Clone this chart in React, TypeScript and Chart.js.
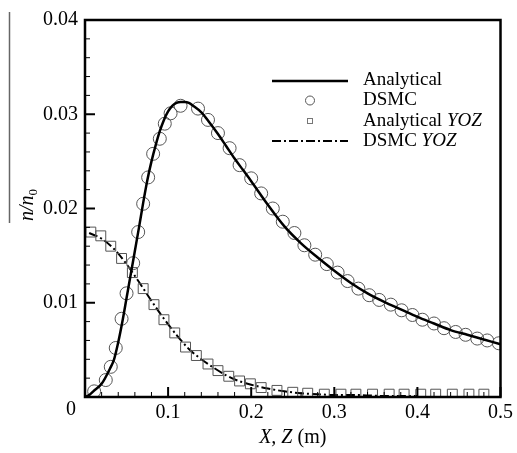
import React, { useEffect, useRef } from 'react';
import { Chart, registerables } from 'chart.js';
Chart.register(...registerables);

const analyticalX = [0, 0.005, 0.01, 0.02, 0.03, 0.035, 0.04, 0.045, 0.05, 0.055, 0.06, 0.065, 0.07, 0.075, 0.08, 0.085, 0.09, 0.095, 0.1, 0.105, 0.11, 0.115, 0.12, 0.125, 0.13, 0.14, 0.15, 0.16, 0.17, 0.18, 0.19, 0.2, 0.22, 0.24, 0.26, 0.28, 0.3, 0.32, 0.34, 0.36, 0.38, 0.4, 0.42, 0.44, 0.46, 0.48, 0.5];
const analyticalY = [0, 0.0002, 0.0006, 0.0014, 0.003, 0.004, 0.0058, 0.008, 0.0105, 0.013, 0.0155, 0.018, 0.0206, 0.023, 0.025, 0.0267, 0.0282, 0.0294, 0.0303, 0.0309, 0.0312, 0.0313, 0.0313, 0.0312, 0.0309, 0.0302, 0.0291, 0.0279, 0.0266, 0.0253, 0.0241, 0.0229, 0.0204, 0.0181, 0.0163, 0.0148, 0.0134, 0.0121, 0.011, 0.0101, 0.0093, 0.0085, 0.0078, 0.0071, 0.0066, 0.0061, 0.0056];

const dsmcX = [0.011, 0.025, 0.031, 0.037, 0.044, 0.05, 0.058, 0.064, 0.07, 0.076, 0.082, 0.09, 0.096, 0.103, 0.115, 0.136, 0.148, 0.16, 0.174, 0.186, 0.2, 0.212, 0.226, 0.238, 0.252, 0.264, 0.277, 0.291, 0.304, 0.316, 0.329, 0.342, 0.354, 0.368, 0.381, 0.394, 0.406, 0.42, 0.432, 0.446, 0.458, 0.472, 0.484, 0.498];
const dsmcY = [0.0006, 0.0018, 0.0032, 0.0052, 0.0083, 0.011, 0.0142, 0.0175, 0.0205, 0.0233, 0.0258, 0.0274, 0.029, 0.0301, 0.0309, 0.0306, 0.0294, 0.028, 0.0264, 0.0246, 0.0232, 0.0216, 0.02, 0.0186, 0.0174, 0.0161, 0.0151, 0.0141, 0.0132, 0.0123, 0.0115, 0.0108, 0.0103, 0.0098, 0.0092, 0.0087, 0.0082, 0.0078, 0.0073, 0.0069, 0.0066, 0.0062, 0.006, 0.0057];

const yozAnaX = [0.007, 0.019, 0.031, 0.044, 0.057, 0.07, 0.083, 0.095, 0.108, 0.121, 0.134, 0.148, 0.16, 0.173, 0.186, 0.199, 0.212, 0.231, 0.25, 0.268, 0.288, 0.308, 0.326, 0.346, 0.366, 0.384, 0.404, 0.422, 0.442, 0.462, 0.48];
const yozAnaY = [0.0175, 0.0171, 0.016, 0.0147, 0.0132, 0.0115, 0.0098, 0.0082, 0.0068, 0.0053, 0.0044, 0.0035, 0.0028, 0.0022, 0.0017, 0.0014, 0.001, 0.0007, 0.0005, 0.0004, 0.0003, 0.0003, 0.0003, 0.0003, 0.0003, 0.0003, 0.0003, 0.0003, 0.0003, 0.0003, 0.0003];

const yozDsmcX = [0.005, 0.02, 0.035, 0.05, 0.065, 0.08, 0.095, 0.11, 0.125, 0.14, 0.155, 0.17, 0.185, 0.2, 0.22, 0.24, 0.26, 0.28, 0.3, 0.33, 0.36, 0.4];
const yozDsmcY = [0.0174, 0.0168, 0.0157, 0.0141, 0.0122, 0.0102, 0.0083, 0.0066, 0.0051, 0.004, 0.0031, 0.0023, 0.0017, 0.0013, 0.0009, 0.0006, 0.0004, 0.0003, 0.0002, 0.0002, 0.0001, 0.0001];

const xMin = 0, xMax = 0.5, xStep = 0.1, xMinorStep = 0.02;
const yMin = 0, yMax = 0.04, yStep = 0.01, yMinorStep = 0.002;

const legendLabels = ['Analytical', 'DSMC', 'Analytical ', 'DSMC '];
const legendItalic = ['', '', 'YOZ', 'YOZ'];

const SERIF = "'Liberation Serif', 'Times New Roman', serif";

const toPts = (xs: number[], ys: number[]) => xs.map((x, i) => ({ x, y: ys[i] }));

const decor = {
  id: 'decor',
  afterDraw(chart: any) {
    const ctx: CanvasRenderingContext2D = chart.ctx;
    const { left, right, top, bottom } = chart.chartArea;
    const xs = chart.scales.x;
    const ys = chart.scales.y;
    ctx.save();
    ctx.strokeStyle = '#000';
    // x ticks
    const nx = Math.round((xMax - xMin) / xMinorStep);
    for (let i = 0; i <= nx; i++) {
      const v = xMin + i * xMinorStep;
      const major = i % Math.round(xStep / xMinorStep) === 0;
      const px = xs.getPixelForValue(v);
      ctx.lineWidth = major ? 2 : 1;
      ctx.beginPath();
      ctx.moveTo(px, bottom);
      ctx.lineTo(px, bottom - (major ? 10 : 5));
      ctx.stroke();
    }
    const ny = Math.round((yMax - yMin) / yMinorStep);
    for (let i = 0; i <= ny; i++) {
      const v = yMin + i * yMinorStep;
      const major = i % Math.round(yStep / yMinorStep) === 0;
      const py = ys.getPixelForValue(v);
      ctx.lineWidth = major ? 2 : 1;
      ctx.beginPath();
      ctx.moveTo(left, py);
      ctx.lineTo(left + (major ? 10 : 5), py);
      ctx.stroke();
    }
    // box
    ctx.lineWidth = 2.5;
    ctx.strokeRect(left, top, right - left, bottom - top);

    // shared zero label
    ctx.fillStyle = '#000';
    ctx.font = `20px ${SERIF}`;
    ctx.textAlign = 'center';
    ctx.textBaseline = 'middle';
    ctx.fillText('0', left - 14, bottom + 13);

    // x title
    ctx.textBaseline = 'middle';
    ctx.textAlign = 'left';
    ctx.font = `italic 20px ${SERIF}`;
    const t1 = 'X, Z';
    const w1 = ctx.measureText(t1).width;
    ctx.font = `20px ${SERIF}`;
    const t2 = ' (m)';
    const w2 = ctx.measureText(t2).width;
    const cx = (left + right) / 2;
    let sx = cx - (w1 + w2) / 2;
    ctx.font = `italic 20px ${SERIF}`;
    ctx.fillText(t1, sx, 438);
    ctx.font = `20px ${SERIF}`;
    ctx.fillText(t2, sx + w1, 438);

    // y title rotated
    ctx.save();
    ctx.translate(28, 205);
    ctx.rotate(-Math.PI / 2);
    ctx.font = `italic 20px ${SERIF}`;
    const m = 'n/n';
    const wm = ctx.measureText(m).width;
    ctx.font = `13px ${SERIF}`;
    const ws = ctx.measureText('0').width;
    const tot = wm + ws;
    ctx.textAlign = 'left';
    ctx.textBaseline = 'alphabetic';
    ctx.font = `italic 20px ${SERIF}`;
    ctx.fillText(m, -tot / 2, 5);
    ctx.font = `13px ${SERIF}`;
    ctx.fillText('0', -tot / 2 + wm, 9);
    ctx.restore();
    // overline (as in reference)
    ctx.strokeStyle = '#666';
    ctx.lineWidth = 1.5;
    ctx.beginPath();
    ctx.moveTo(9.5, 12);
    ctx.lineTo(9.5, 223);
    ctx.stroke();

    // legend
    const rows = [80, 100.5, 121, 141];
    const lx1 = 272, lx2 = 348, mx = 310, tx = 363;
    ctx.strokeStyle = '#000';
    ctx.lineWidth = 2.5;
    ctx.setLineDash([]);
    ctx.beginPath();
    ctx.moveTo(lx1, rows[0] + 1);
    ctx.lineTo(lx2, rows[0] + 1);
    ctx.stroke();
    ctx.strokeStyle = '#555';
    ctx.lineWidth = 1;
    ctx.beginPath();
    ctx.arc(mx, rows[1], 4.5, 0, Math.PI * 2);
    ctx.stroke();
    ctx.strokeStyle = '#777';
    ctx.strokeRect(mx - 2.5, rows[2] - 2.5, 5, 5);
    ctx.strokeStyle = '#000';
    ctx.lineWidth = 2;
    ctx.setLineDash([9, 3, 2, 3]);
    ctx.beginPath();
    ctx.moveTo(lx1, rows[3]);
    ctx.lineTo(lx2, rows[3]);
    ctx.stroke();
    ctx.setLineDash([]);
    ctx.fillStyle = '#000';
    ctx.textAlign = 'left';
    ctx.textBaseline = 'middle';
    for (let i = 0; i < legendLabels.length; i++) {
      ctx.font = `19px ${SERIF}`;
      ctx.fillText(legendLabels[i], tx, rows[i]);
      if (legendItalic[i]) {
        const w = ctx.measureText(legendLabels[i]).width;
        ctx.font = `italic 19px ${SERIF}`;
        ctx.fillText(legendItalic[i], tx + w, rows[i]);
      }
    }
    ctx.restore();
  },
};

export default function App() {
  const ref = useRef<HTMLCanvasElement | null>(null);
  useEffect(() => {
    if (!ref.current) return;
    const chart = new Chart(ref.current, {
      type: 'scatter',
      data: {
        datasets: [
          {
            label: 'Analytical',
            data: toPts(analyticalX, analyticalY),
            showLine: true,
            borderColor: '#000',
            borderWidth: 2.5,
            pointRadius: 0,
            cubicInterpolationMode: 'monotone',
            fill: false,
          },
          {
            label: 'DSMC',
            data: toPts(dsmcX, dsmcY),
            showLine: false,
            pointStyle: 'circle',
            pointRadius: 6.5,
            pointBorderColor: '#555',
            pointBackgroundColor: 'rgba(0,0,0,0)',
            pointBorderWidth: 1,
          },
          {
            label: 'Analytical YOZ',
            data: toPts(yozAnaX, yozAnaY),
            showLine: false,
            pointStyle: 'rect',
            pointRadius: 7,
            pointBorderColor: '#555',
            pointBackgroundColor: 'rgba(0,0,0,0)',
            pointBorderWidth: 1,
          },
          {
            label: 'DSMC YOZ',
            data: toPts(yozDsmcX, yozDsmcY),
            showLine: true,
            borderColor: '#000',
            borderWidth: 2,
            borderDash: [9, 3, 2, 3],
            pointRadius: 0,
            cubicInterpolationMode: 'monotone',
            fill: false,
          },
        ],
      } as any,
      options: {
        animation: false,
        responsive: false,
        devicePixelRatio: 1,
        layout: { padding: { top: 20, right: 14.5, left: 0, bottom: 0 } },
        plugins: { legend: { display: false }, tooltip: { enabled: false }, title: { display: false } },
        scales: {
          x: {
            type: 'linear',
            min: xMin,
            max: xMax,
            grid: { display: false, drawTicks: false },
            border: { display: false },
            ticks: {
              stepSize: xStep,
              padding: 4,
              color: '#000',
              font: { family: SERIF, size: 20 },
              callback: (v: any) => (Math.abs(v) < 1e-9 ? '' : String(Math.round(v * 10) / 10)),
              maxRotation: 0,
            },
            afterFit: (s: any) => { s.height = 56; },
          },
          y: {
            type: 'linear',
            min: yMin,
            max: yMax,
            grid: { display: false, drawTicks: false },
            border: { display: false },
            ticks: {
              stepSize: yStep,
              padding: 7,
              color: '#000',
              font: { family: SERIF, size: 20 },
              callback: (v: any) => (Math.abs(v) < 1e-9 ? '' : (Math.round(v * 100) / 100).toFixed(2)),
            },
            afterFit: (s: any) => { s.width = 85; },
          },
        },
      } as any,
      plugins: [decor],
    });
    return () => chart.destroy();
  }, []);
  return (
    <div style={{ position: 'absolute', left: 0, top: 0, width: 517, height: 453, background: '#fff' }}>
      <canvas ref={ref} width={517} height={453} style={{ width: 517, height: 453 }} />
    </div>
  );
}
